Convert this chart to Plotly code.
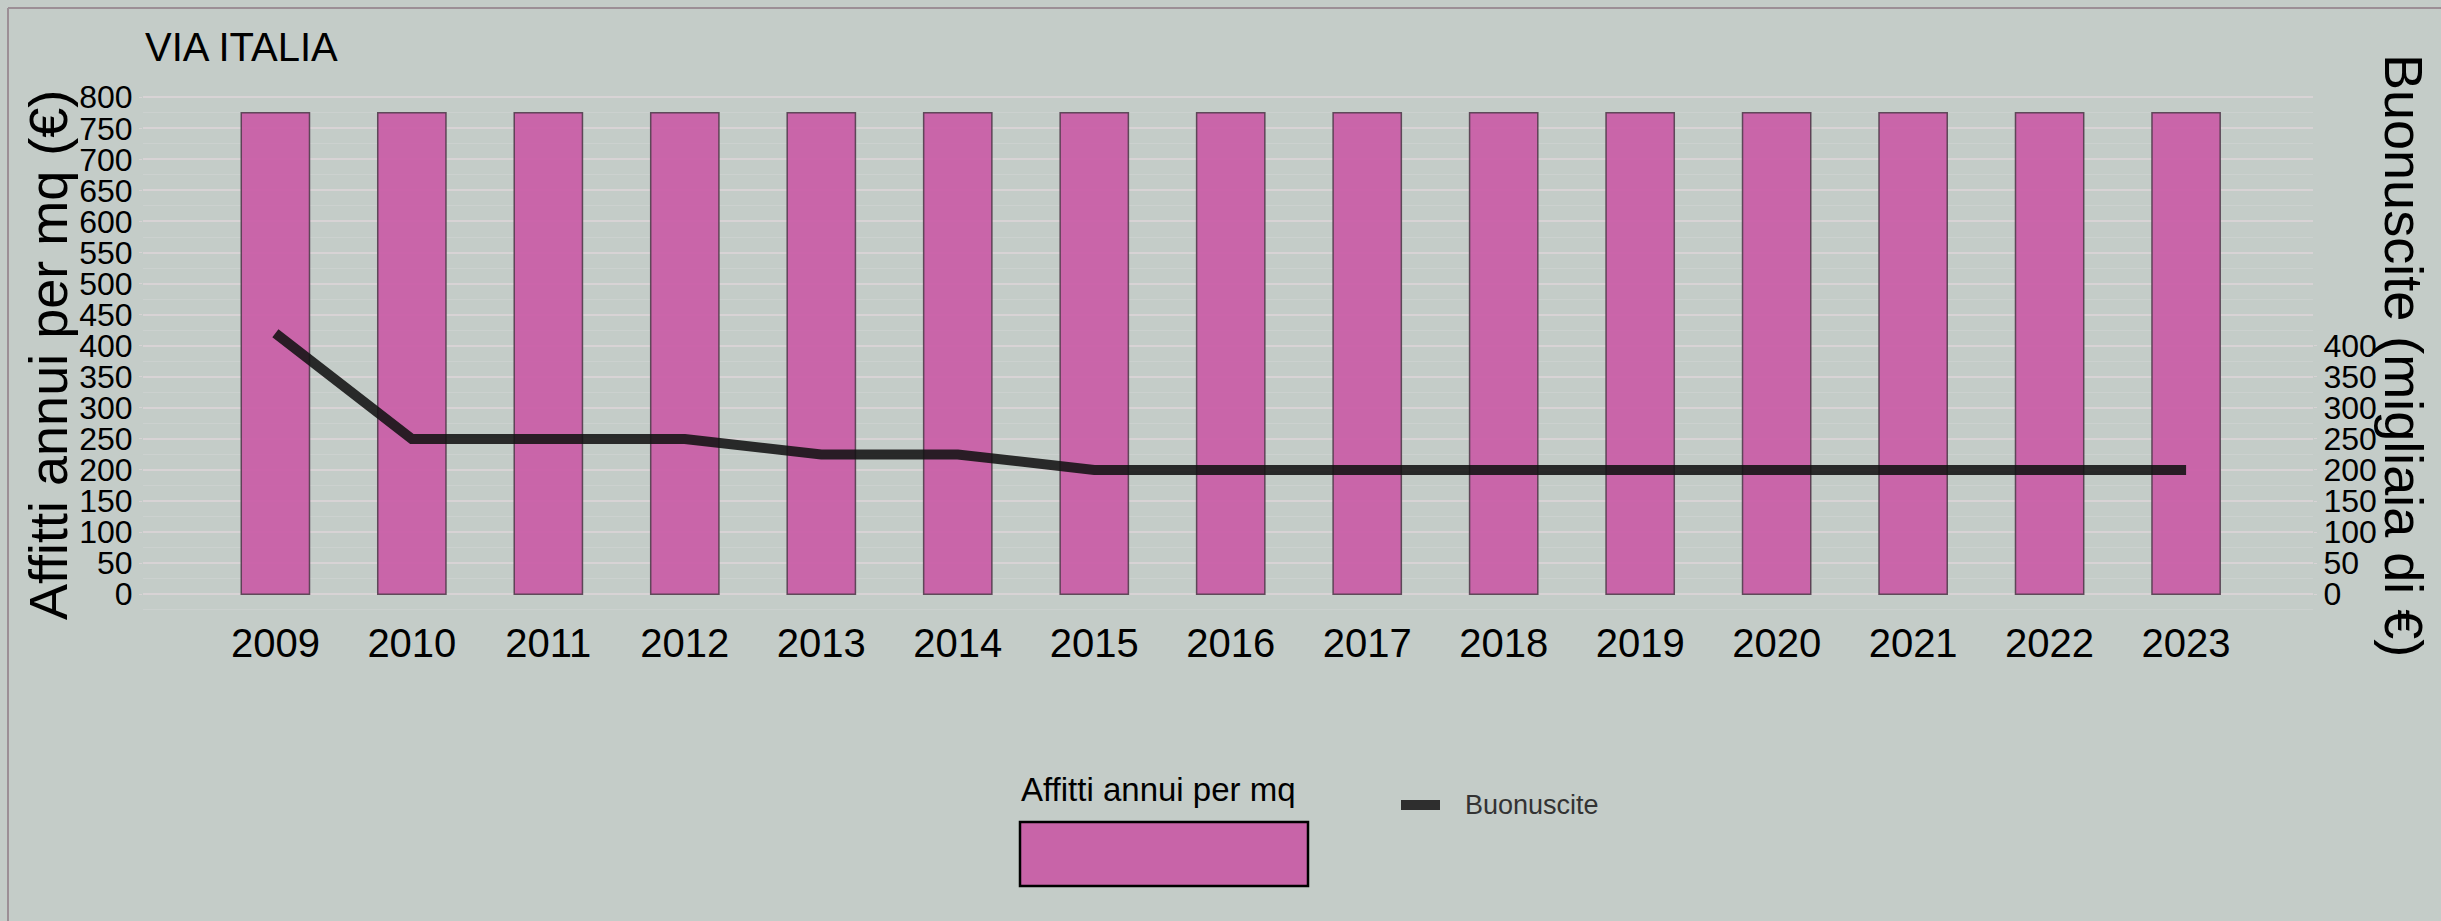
import plotly.graph_objects as go

# ---- data ----
years = ["2009", "2010", "2011", "2012", "2013", "2014", "2015", "2016",
         "2017", "2018", "2019", "2020", "2021", "2022", "2023"]
affitti = [775, 775, 775, 775, 775, 775, 775, 775, 775, 775, 775, 775, 775, 775, 775]
buonuscite = [420, 250, 250, 250, 225, 225, 200, 200, 200, 200, 200, 200, 200, 200, 200]
left_ticks = [0, 50, 100, 150, 200, 250, 300, 350, 400, 450, 500, 550, 600, 650, 700, 750, 800]
minor_ticks = [-25, 25, 75, 125, 175, 225, 275, 325, 375, 425, 475, 525, 575, 625, 675, 725, 775]
right_ticks = [0, 50, 100, 150, 200, 250, 300, 350, 400]

title_text = "VIA ITALIA"
left_title = "Affitti annui per mq (€)"
right_title = "Buonuscite (migliaia di €)"
bar_name = "Affitti annui per mq"
line_name = "Buonuscite"

# ---- layout geometry (page pixels) ----
W, H = 2441, 921
L, R, T, B = 143, 128, 96, 310
PW, PH = W - L - R, H - T - B
YR = [-27, 802]

def px(x):
    return (x - L) / PW

def py(y):
    return (H - B - y) / PH

BG = "#c4ccc8"
PINK = "rgba(201,92,167,0.93)"
SANS = "Liberation Sans, Arial, sans-serif"
NARROW = "Liberation Sans Narrow, Arial Narrow, Liberation Sans, Arial, sans-serif"

fig = go.Figure()
fig.add_trace(go.Bar(
    x=years, y=affitti, name=bar_name, yaxis="y",
    marker=dict(color=PINK, line=dict(color="rgba(75,55,70,0.85)", width=1.5)),
    showlegend=False,
))
fig.add_trace(go.Scatter(
    x=years, y=buonuscite, name=line_name, yaxis="y2", mode="lines",
    line=dict(color="rgba(18,18,18,0.88)", width=10),
    showlegend=False,
))

fig.update_layout(
    width=W, height=H,
    margin=dict(l=L, r=R, t=T, b=B),
    paper_bgcolor=BG, plot_bgcolor=BG,
    bargap=0.5,
    xaxis=dict(
        type="category", range=[-0.97, 14.93], showgrid=False, zeroline=False,
        showline=False, ticks="", tickfont=dict(family=NARROW, size=40, color="#000"),
        ticklabelstandoff=5,
    ),
    yaxis=dict(
        range=YR, tickvals=left_ticks, showgrid=True, gridcolor="#d8d3d5", gridwidth=2,
        zeroline=False, showline=False, ticks="outside", ticklen=3, tickcolor="#d8d3d5",
        tickfont=dict(family=SANS, size=32, color="#000"),
        minor=dict(tickvals=minor_ticks, showgrid=True,
                   gridcolor="#ccd1cf", gridwidth=1, ticks=""),
    ),
    yaxis2=dict(
        range=YR, overlaying="y", side="right", tickvals=right_ticks, showgrid=False,
        zeroline=False, showline=False, ticks="outside", ticklen=3, tickcolor="#d8d3d5",
        tickfont=dict(family=SANS, size=32, color="#000"),
    ),
    annotations=[
        dict(text=title_text, xref="paper", yref="paper", x=px(143), y=py(47),
             xanchor="left", yanchor="middle", showarrow=False,
             font=dict(family=SANS, size=40, color="#000")),
        dict(text=left_title, xref="paper", yref="paper", x=px(48), y=py(355),
             xanchor="center", yanchor="middle", textangle=-90, showarrow=False,
             font=dict(family=SANS, size=54, color="#000")),
        dict(text=right_title, xref="paper", yref="paper", x=px(2404), y=py(355),
             xanchor="center", yanchor="middle", textangle=90, showarrow=False,
             font=dict(family=SANS, size=54, color="#000")),
        dict(text=bar_name, xref="paper", yref="paper", x=px(1019), y=py(789),
             xanchor="left", yanchor="middle", showarrow=False,
             font=dict(family=NARROW, size=33, color="#000")),
        dict(text=line_name, xref="paper", yref="paper", x=px(1463), y=py(805),
             xanchor="left", yanchor="middle", showarrow=False,
             font=dict(family=NARROW, size=27, color="#333")),
    ],
    shapes=[
        dict(type="rect", xref="paper", yref="paper", x0=px(1020), x1=px(1308),
             y0=py(886), y1=py(822), fillcolor="#c864a8",
             line=dict(color="#000", width=2.5), layer="above"),
        dict(type="line", xref="paper", yref="paper", x0=px(1401), x1=px(1440),
             y0=py(805), y1=py(805), line=dict(color="#2e2e2e", width=10)),
        # outer frame visible along the top and left edges
        dict(type="line", xref="paper", yref="paper", x0=px(8), x1=px(W),
             y0=py(8), y1=py(8), line=dict(color="#9c8f96", width=2), layer="below"),
        dict(type="line", xref="paper", yref="paper", x0=px(8), x1=px(8),
             y0=py(8), y1=py(H), line=dict(color="#9c8f96", width=2), layer="below"),
    ],
)

fig.write_html(
    "out.html",
    config={"displayModeBar": False},
    post_script="document.body.style.margin='0';"
                "document.body.style.background='#c4ccc8';"
                "document.body.style.overflow='hidden';",
)
